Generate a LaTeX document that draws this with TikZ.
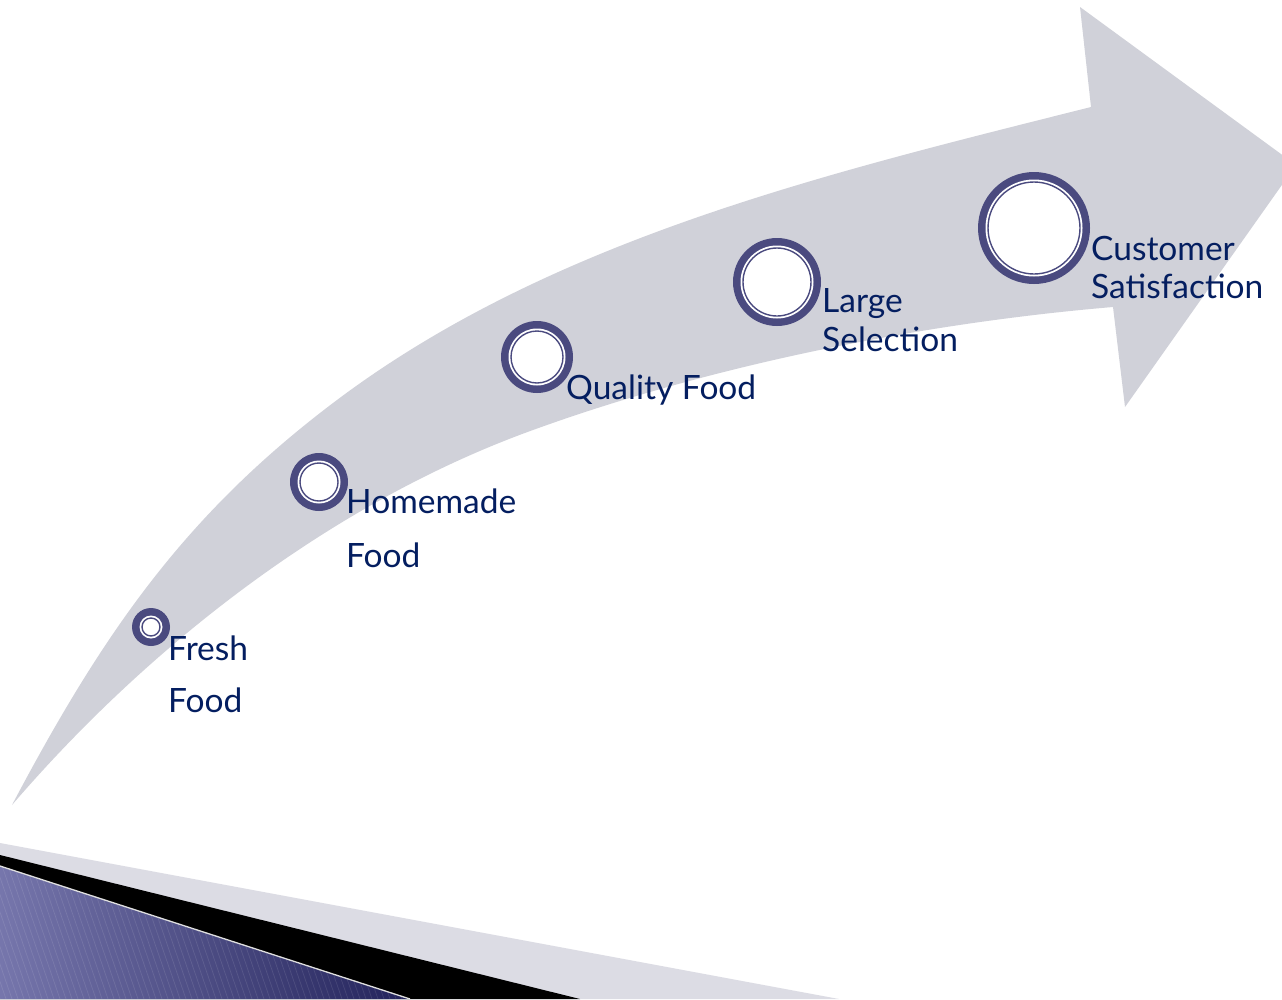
\documentclass[tikz,border=0pt]{standalone}
\usepackage{fontspec}
\setmainfont{Lato}
\definecolor{arrowgray}{RGB}{208,209,217}
\definecolor{bandgray}{RGB}{220,220,228}
\definecolor{ringc}{RGB}{74,74,127}
\definecolor{txtc}{RGB}{4,30,96}
\definecolor{bluelight}{RGB}{118,118,172}
\definecolor{bluedark}{RGB}{34,34,90}
\tikzset{
  ringnode/.style={circle, fill=ringc, inner sep=0pt, outer sep=0pt},
  label/.style={anchor=base west, inner sep=0pt, text=txtc, font=\fontsize{33.5}{40}\selectfont},
}
\newcommand\ringat[4]{%
  \node[ringnode, minimum size=#4*2pt] (#1) at (#2,#3) {};
  \fill[white] (#1.center) circle[radius=#4pt-7.5pt];
  \draw[ringc, line width=1.4pt] (#1.center) circle[radius=#4pt-10pt];
}
\begin{document}
\begin{tikzpicture}[x=1pt, y=-1pt]
\useasboundingbox (0,0) rectangle (1282,999);
\clip (0,0) rectangle (1282,999);
\fill[white] (0,0) rectangle (1282,999);
% curved arrow
\fill[arrowgray]
  (12,805) .. controls (103,633) and (185,514) .. (337,400)
  .. controls (553,238) and (829,173) .. (1091,107)
  -- (1080,7) -- (1296,165) -- (1125,407) -- (1113,307)
  .. controls (923,323) and (712,365) .. (533,430)
  .. controls (336,501) and (152,642) .. (12,805)
  -- cycle;
% bottom-left decoration
\fill[bandgray] (0,843) -- (839,999) -- (0,999) -- cycle;
\fill[black] (0,855) -- (580,999) -- (0,999) -- cycle;
\begin{scope}
  \clip (0,866) -- (410,999) -- (0,999) -- cycle;
  \shade[left color=bluelight, right color=bluedark] (0,860) rectangle (412,999);
  \foreach \i in {-60,-54,...,420} {
    \draw[white, opacity=0.10, line width=0.7pt] (\i,860) -- (\i+48,999);
  }
\end{scope}
\draw[white!75!gray, line width=1.3pt] (0,866) -- (410,999);
% rings
\ringat{fresh}{151}{627}{19}
\ringat{home}{319}{482}{29}
\ringat{quality}{537}{357}{36}
\ringat{large}{777}{282}{44}
\ringat{cust}{1034}{228}{56}
% labels
\node[label] (t1a) at (168,660) {Fresh};
\node[label] (t1b) at (168,712) {Food};
\node[label] (t2a) at (346,513) {Homemade};
\node[label] (t2b) at (346,567) {Food};
\node[label] (t3) at (566,399) {Quality Food};
\node[label] (t4a) at (822,312) {Large};
\node[label] (t4b) at (822,351) {Selection};
\node[label] (t5a) at (1091,260) {Customer};
\node[label] (t5b) at (1091,298) {Satisfaction};
\end{tikzpicture}
\end{document}
